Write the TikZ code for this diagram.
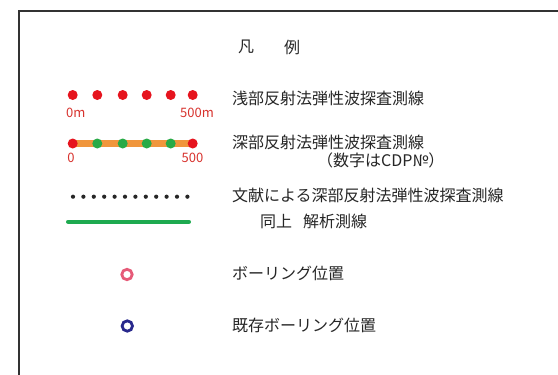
\documentclass[tikz,border=0pt]{standalone}
\usepackage{fontspec}
\newfontfamily\cjk{Noto Sans CJK JP}
\usepackage{tikz}
\usetikzlibrary{positioning}
\definecolor{dotred}{RGB}{230,20,30}
\definecolor{labelred}{RGB}{215,50,45}
\definecolor{lineorange}{RGB}{240,150,60}
\definecolor{dotgreen}{RGB}{40,170,70}
\definecolor{linegreen}{RGB}{30,170,80}
\definecolor{borepink}{RGB}{230,90,120}
\definecolor{borenavy}{RGB}{40,40,140}
\definecolor{framegray}{RGB}{50,50,50}
\tikzset{
    legendtext/.style={anchor=west, inner sep=0pt, text=black!85,
        font=\cjk\fontsize{16}{18}\selectfont},
    scaletext/.style={inner sep=0pt, text=labelred,
        font=\cjk\fontsize{13}{15}\selectfont},
    reddot/.style={fill=dotred},
    greendot/.style={fill=dotgreen}
}

\begin{document}
\begin{tikzpicture}[x=1pt, y=-1pt]
    \useasboundingbox (0,0) rectangle (558,375);
    % Frame (open to the right and bottom)
    \draw[framegray, line width=2pt] (18.5,380) -- (18.5,11) -- (565,11);

    % Title
    \node[legendtext] (title1) at (238,47) {凡};
    \node[legendtext] (title2) at (284,47) {例};

    % Shallow reflection survey line
    \foreach \x in {72.7,97.3,122.7,146.7,170.7,192.7}
        \fill[reddot] (\x,95) circle (5);
    \node[scaletext, anchor=west] (s0) at (66,113) {0m};
    \node[scaletext, anchor=west] (s500) at (180,113) {500m};
    \node[legendtext] (shallow) at (232,98) {浅部反射法弾性波探査測線};

    % Deep reflection survey line
    \draw[lineorange, line width=6.5pt] (72.7,143.5) -- (192.7,143.5);
    \fill[reddot] (72.7,143.5) circle (5);
    \fill[reddot] (192.7,143.5) circle (5);
    \foreach \x in {97.3,122.7,146.7,170.7}
        \fill[greendot] (\x,143.5) circle (5);
    \node[scaletext] (d0) at (71,157.5) {0};
    \node[scaletext] (d500) at (192.5,157.5) {500};
    \node[legendtext] (deep) at (232,142) {深部反射法弾性波探査測線};
    \node[legendtext] (cdp) at (317,160) {（数字はCDP№）};

    % Deep reflection line from literature
    \foreach \i in {0,...,11}
        \fill[black!85] (73+10.4*\i,196.7) circle (2.1);
    \node[legendtext] (lit) at (232,195) {文献による深部反射法弾性波探査測線};

    % Analysis line
    \draw[linegreen, line width=4pt, line cap=round] (68,221.7) -- (189,221.7);
    \node[legendtext] (ana1) at (260,221.5) {同上};
    \node[legendtext] (ana2) at (303,221.5) {解析測線};

    % Boring locations
    \draw[borepink, line width=2.8pt] (127,274.5) circle (5.2);
    \node[legendtext] (bore) at (232,273.5) {ボーリング位置};
    \draw[borenavy, line width=2.8pt] (127.3,326) circle (5.2);
    \node[legendtext] (oldbore) at (232,325.5) {既存ボーリング位置};
\end{tikzpicture}
\end{document}
